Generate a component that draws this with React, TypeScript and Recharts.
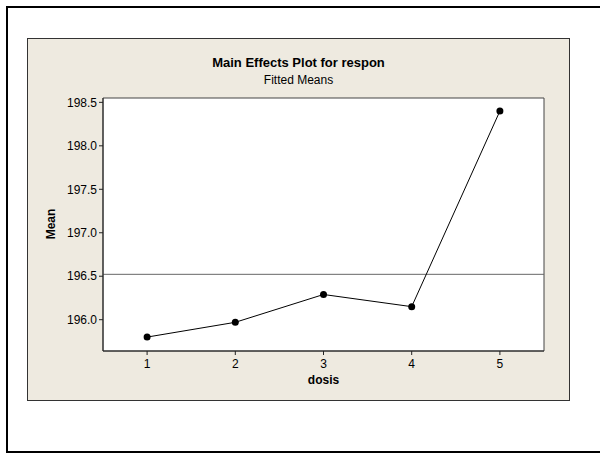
import React from "react"
import {
  LineChart,
  Line,
  XAxis,
  YAxis,
  ReferenceArea,
  ReferenceLine,
} from "recharts"

const dosisLevels = [1, 2, 3, 4, 5]
const fittedMeans = [195.8, 195.97, 196.29, 196.15, 198.4]
const yTicks = [196.0, 196.5, 197.0, 197.5, 198.0, 198.5]

const data = dosisLevels.map((d, i) => ({ dosis: d, mean: fittedMeans[i] }))
const grandMean = fittedMeans.reduce((a, b) => a + b, 0) / fittedMeans.length

const yMin = 195.64
const yMax = 198.55
const font = "'Liberation Sans', Arial, sans-serif"

export default function App() {
  return (
    <div style={{ position: "absolute", left: 0, top: 0, width: 600, height: 455, background: "#fff", overflow: "hidden", fontFamily: font }}>
      {/* outer frame */}
      <div style={{ position: "absolute", left: 6, top: 6, width: 620, height: 443, border: "2px solid #000" }} />
      {/* beige panel */}
      <div style={{ position: "absolute", left: 27, top: 38, width: 541, height: 361, background: "#EEEAE0", border: "1px solid #333" }} />

      <div style={{ position: "absolute", left: 27, top: 55, width: 543, textAlign: "center", fontWeight: "bold", fontSize: 13, color: "#000" }}>
        Main Effects Plot for respon
      </div>
      <div style={{ position: "absolute", left: 27, top: 73, width: 543, textAlign: "center", fontSize: 12, color: "#000" }}>
        Fitted Means
      </div>

      <div style={{ position: "absolute", left: 27, top: 38 }}>
        <LineChart
          width={543}
          height={363}
          data={data}
          margin={{ top: 60, right: 26, bottom: 0, left: 0 }}
        >
          <XAxis
            type="number"
            dataKey="dosis"
            domain={[0.5, 5.5]}
            ticks={dosisLevels}
            height={50}
            tickSize={4}
            tickMargin={4}
            axisLine={{ stroke: "#222" }}
            tickLine={{ stroke: "#222" }}
            tick={{ fill: "#000", fontSize: 12, fontFamily: font }}
            label={{ value: "dosis", position: "insideTop", offset: 24, fill: "#000", fontSize: 12, fontWeight: "bold", fontFamily: font }}
          />
          <YAxis
            type="number"
            domain={[yMin, yMax]}
            ticks={yTicks}
            width={76}
            tickSize={4}
            tickMargin={2}
            tickFormatter={(v: number) => v.toFixed(1)}
            axisLine={{ stroke: "#222" }}
            tickLine={{ stroke: "#222" }}
            tick={{ fill: "#000", fontSize: 12, fontFamily: font }}
          />
          <ReferenceArea
            x1={0.5}
            x2={5.5}
            y1={yMin}
            y2={yMax}
            fill="#fff"
            fillOpacity={1}
            stroke="#444"
            strokeWidth={1}
          />
          <ReferenceLine y={grandMean} stroke="#666" strokeWidth={1} />
          <Line
            type="linear"
            dataKey="mean"
            stroke="#000"
            strokeWidth={1}
            dot={{ r: 3.5, fill: "#000", stroke: "#000", strokeWidth: 0 }}
            isAnimationActive={false}
          />
        </LineChart>
      </div>

      <div style={{ position: "absolute", left: 51, top: 224, transform: "translate(-50%, -50%) rotate(-90deg)", fontWeight: "bold", fontSize: 12, color: "#000", whiteSpace: "nowrap" }}>
        Mean
      </div>
    </div>
  )
}
